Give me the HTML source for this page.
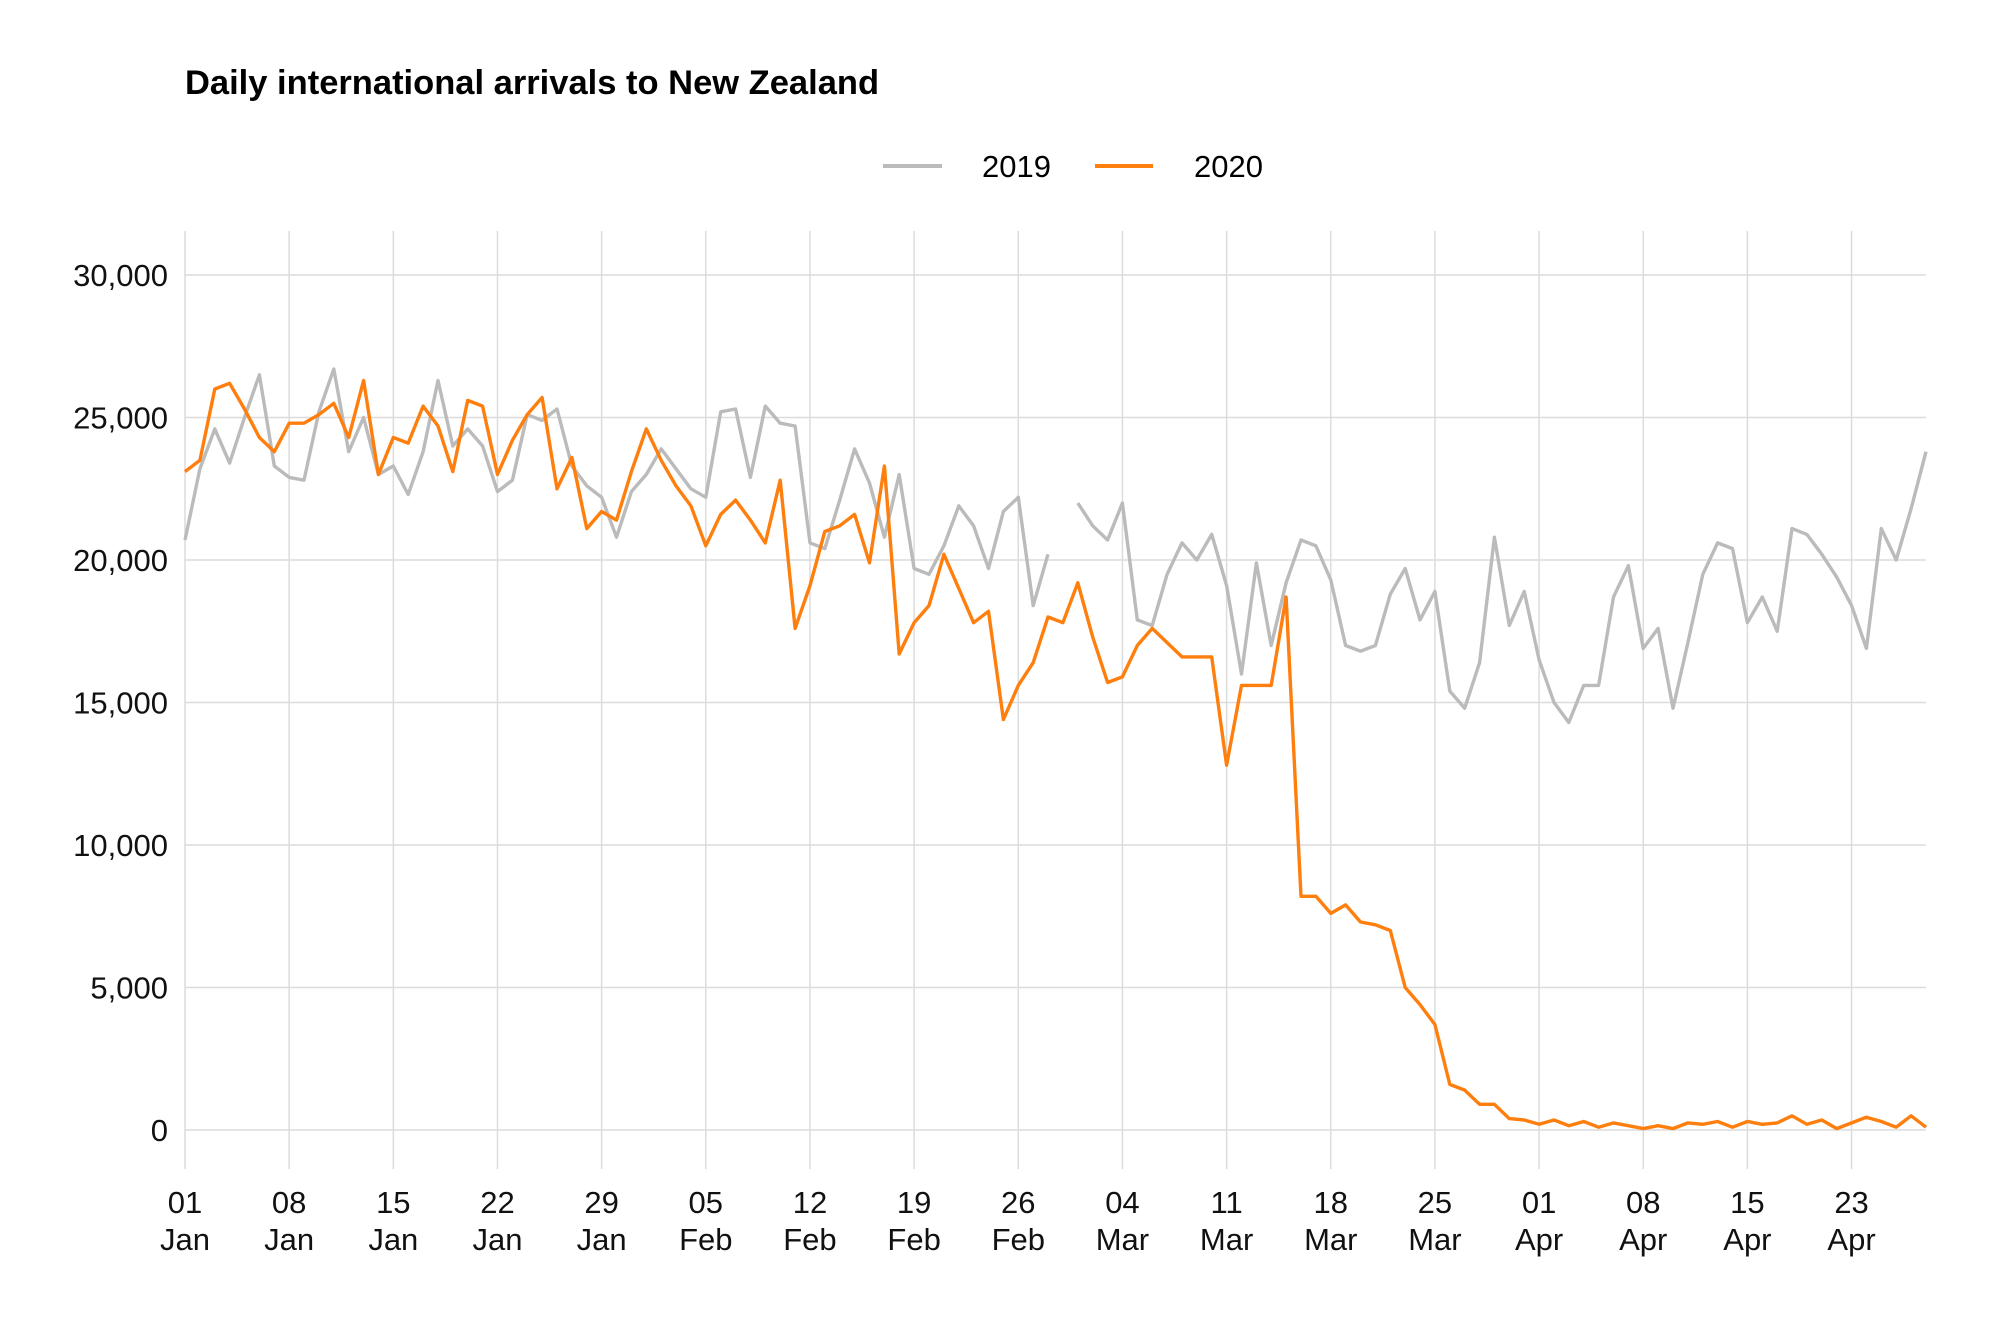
<!DOCTYPE html>
<html><head><meta charset="utf-8"><style>
html,body{margin:0;padding:0;background:#fff;}
svg{display:block;font-family:"Liberation Sans",sans-serif;}
</style></head><body>
<svg id="chart" width="2015" height="1322" viewBox="0 0 2015 1322" xmlns="http://www.w3.org/2000/svg">
<text x="185" y="94" font-size="34.5" font-weight="bold" fill="#000">Daily international arrivals to New Zealand</text>
<g>
<line x1="883" y1="166" x2="942" y2="166" stroke="#bbbbbb" stroke-width="4"/>
<text x="982" y="177" font-size="31" fill="#000">2019</text>
<line x1="1095" y1="166" x2="1153" y2="166" stroke="#ff7f0e" stroke-width="4"/>
<text x="1194" y="177" font-size="31" fill="#000">2020</text>
</g>
<g id="grid"></g>
<g id="yaxis"></g>
<g id="xaxis"></g>
<g id="series"></g>
</svg>
<script>
const yTicks = [0,5000,10000,15000,20000,25000,30000];
const xTickDays = [0,7,14,21,28,35,42,49,56,63,70,77,84,91,98,105,112];
const xTickDay = ["01","08","15","22","29","05","12","19","26","04","11","18","25","01","08","15","23"];
const xTickMonth = ["Jan","Jan","Jan","Jan","Jan","Feb","Feb","Feb","Feb","Mar","Mar","Mar","Mar","Apr","Apr","Apr","Apr"];
const series2019 = [20700,23200,24600,23400,25000,26500,23300,22900,22800,25200,26700,23800,25000,23000,23300,22300,23800,26300,24000,24600,24000,22400,22800,25100,24900,25300,23300,22600,22200,20800,22400,23000,23900,23200,22500,22200,25200,25300,22900,25400,24800,24700,20600,20400,22100,23900,22700,20800,23000,19700,19500,20500,21900,21200,19700,21700,22200,18400,20200,null,22000,21200,20700,22000,17900,17700,19500,20600,20000,20900,19100,16000,19900,17000,19200,20700,20500,19300,17000,16800,17000,18800,19700,17900,18900,15400,14800,16400,20800,17700,18900,16500,15000,14300,15600,15600,18700,19800,16900,17600,14800,17100,19500,20600,20400,17800,18700,17500,21100,20900,20200,19400,18400,16900,21100,20000,21800,23800];
const series2020 = [23100,23500,26000,26200,25300,24300,23800,24800,24800,25100,25500,24300,26300,23000,24300,24100,25400,24700,23100,25600,25400,23000,24200,25100,25700,22500,23600,21100,21700,21400,23100,24600,23500,22600,21900,20500,21600,22100,21400,20600,22800,17600,19100,21000,21200,21600,19900,23300,16700,17800,18400,20200,19000,17800,18200,14400,15600,16400,18000,17800,19200,17300,15700,15900,17000,17600,17100,16600,16600,16600,12800,15600,15600,15600,18700,8200,8200,7600,7900,7300,7200,7000,5000,4400,3700,1600,1400,900,900,400,350,200,350,150,300,100,250,150,50,150,50,250,200,300,100,300,200,250,500,200,350,50,250,450,300,100,500,100];

const NS = "http://www.w3.org/2000/svg";
const X0 = 185, DX = 14.88, Y0 = 1130, YTOP = 275, YMAX = 30000;
function xs(d){ return X0 + d*DX; }
function ys(v){ return Y0 - v*(Y0-YTOP)/YMAX; }
function mk(tag, attrs, parent){ const e=document.createElementNS(NS,tag); for(const k in attrs) e.setAttribute(k,attrs[k]); parent.appendChild(e); return e; }
const grid=document.getElementById('grid'), ya=document.getElementById('yaxis'), xa=document.getElementById('xaxis'), ser=document.getElementById('series');
const nDays = series2020.length-1;
yTicks.forEach(v=>{
  const l=mk('line',{x1:X0,x2:xs(nDays),y1:ys(v),y2:ys(v),stroke:'#dcdcdc','stroke-width':1.5},grid);
  
  
  const t=mk('text',{x:168,y:ys(v)+11,'text-anchor':'end','font-size':31,fill:'#111'},ya);
  
  
  t.textContent=v.toLocaleString('en-US');
});
xTickDays.forEach((d,i)=>{
  const l=mk('line',{x1:xs(d),x2:xs(d),y1:231,y2:1169,stroke:'#dcdcdc','stroke-width':1.5},grid);
  
  
  const t=mk('text',{x:xs(d),y:1213,'text-anchor':'middle','font-size':31,fill:'#111'},xa);
  
  
  const s1=mk('tspan',{x:xs(d),dy:0},t); s1.textContent=xTickDay[i];
  const s2=mk('tspan',{x:xs(d),dy:37},t); s2.textContent=xTickMonth[i];
});
function drawLine(arr,color,name){
  let segs=[],cur=[];
  arr.forEach((v,d)=>{ if(v===null){ if(cur.length) segs.push(cur); cur=[]; } else cur.push(xs(d).toFixed(1)+','+ys(v).toFixed(1)); });
  if(cur.length) segs.push(cur);
  segs.forEach(s=>{
    const p=mk('polyline',{points:s.join(' '),fill:'none',stroke:color,'stroke-width':3.4,'stroke-linejoin':'round'},ser);
    
    
  });
}
drawLine(series2019,'#bbbbbb','line-2019');
drawLine(series2020,'#ff7f0e','line-2020');
</script>
</body></html>
